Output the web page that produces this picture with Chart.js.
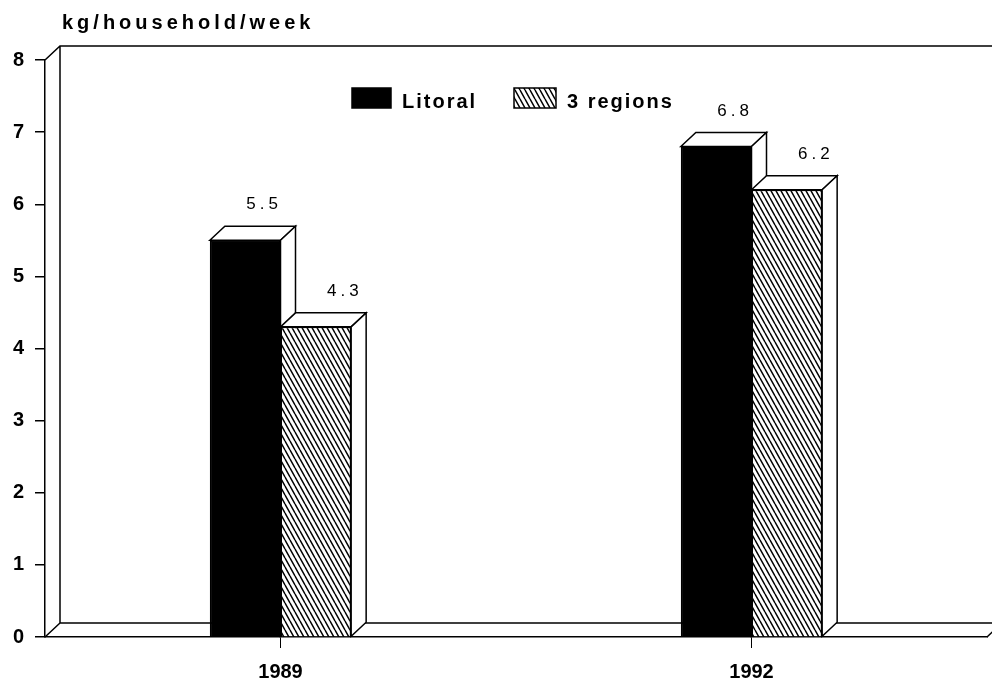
<!DOCTYPE html>
<html>
<head>
<meta charset="utf-8">
<script src="https://cdn.jsdelivr.net/npm/chart.js@4"></script>
<style>
  body { margin: 0; background: #fff; }
  canvas { display: block; }
</style>
</head>
<body>
<canvas id="chart" width="992" height="679"></canvas>
<script>
// datos
const years = ['1989', '1992'];
const litoral = [5.5, 6.8];
const regions3 = [4.3, 6.2];
const seriesNames = ['Litoral', '3 regions'];
const yTicks = [0, 1, 2, 3, 4, 5, 6, 7, 8];
const unitLabel = 'kg/household/week';

const FONT = '"Liberation Sans", Arial, sans-serif';
const DX = 15, DY = 14; // profundidad del efecto 3D

function makeHatch() {
  const c = document.createElement('canvas');
  c.width = 5; c.height = 9;
  const g = c.getContext('2d');
  g.fillStyle = '#fff';
  g.fillRect(0, 0, 5, 9);
  g.strokeStyle = '#000';
  g.lineWidth = 1.5;
  g.beginPath();
  for (const o of [-5, 0, 5]) { g.moveTo(o, 0); g.lineTo(o + 5, 9); }
  g.stroke();
  return g.createPattern(c, 'repeat');
}
const hatch = makeHatch();

// paredes del fondo (marco 3D)
const backWall = {
  id: 'backWall',
  beforeDatasetsDraw(chart) {
    const { ctx, chartArea: a } = chart;
    ctx.save();
    ctx.strokeStyle = '#000';
    ctx.lineWidth = 1.5;
    ctx.beginPath();
    ctx.moveTo(a.left, a.top); ctx.lineTo(a.left + DX, a.top - DY);
    ctx.lineTo(chart.width, a.top - DY);
    ctx.moveTo(a.left + DX, a.top - DY); ctx.lineTo(a.left + DX, a.bottom - DY);
    ctx.lineTo(a.right + DX, a.bottom - DY);
    ctx.moveTo(a.left, a.bottom); ctx.lineTo(a.left + DX, a.bottom - DY);
    ctx.moveTo(a.right, a.bottom); ctx.lineTo(a.right + DX, a.bottom - DY);
    ctx.stroke();
    ctx.restore();
  }
};

// vuelve a pintar las barras en orden, con caras superior y lateral
const bars3d = {
  id: 'bars3d',
  afterDatasetsDraw(chart) {
    const { ctx } = chart;
    chart.data.datasets.forEach((ds, i) => {
      chart.getDatasetMeta(i).data.forEach(el => {
        el.draw(ctx);
        const { x, y, base, width } = el.getProps(['x', 'y', 'base', 'width'], true);
        const l = x - width / 2, r = x + width / 2;
        ctx.save();
        ctx.strokeStyle = '#000';
        ctx.lineWidth = 1.5;
        ctx.fillStyle = '#fff';
        ctx.beginPath();
        ctx.moveTo(l, y); ctx.lineTo(l + DX, y - DY); ctx.lineTo(r + DX, y - DY); ctx.lineTo(r, y);
        ctx.closePath(); ctx.fill(); ctx.stroke();
        ctx.beginPath();
        ctx.moveTo(r, y); ctx.lineTo(r + DX, y - DY); ctx.lineTo(r + DX, base - DY); ctx.lineTo(r, base);
        ctx.closePath(); ctx.fill(); ctx.stroke();
        ctx.restore();
      });
    });

    const shift = [17, 27];
    ctx.save();
    ctx.fillStyle = '#000';
    ctx.font = '17px ' + FONT;
    ctx.letterSpacing = '4px';
    ctx.textAlign = 'center';
    ctx.textBaseline = 'alphabetic';
    chart.data.datasets.forEach((ds, i) => {
      chart.getDatasetMeta(i).data.forEach((el, j) => {
        ctx.fillText(ds.data[j].toFixed(1), el.x + shift[i] + 2, el.y - 31);
      });
    });
    ctx.restore();
  },
  afterDraw(chart) {
    const { ctx } = chart;
    ctx.save();
    ctx.fillStyle = '#000';
    ctx.font = 'bold 20px ' + FONT;
    ctx.letterSpacing = '4px';
    ctx.textBaseline = 'alphabetic';
    ctx.fillText(unitLabel, 62, 29);
    // leyenda
    ctx.letterSpacing = '2px';
    const items = [
      { box: 352, w: 39, text: 402 },
      { box: 514, w: 42, text: 567 }
    ];
    chart.data.datasets.forEach((ds, i) => {
      const it = items[i];
      ctx.fillStyle = ds.backgroundColor;
      ctx.fillRect(it.box, 88, it.w, 20);
      ctx.strokeStyle = '#000';
      ctx.lineWidth = 1.5;
      ctx.strokeRect(it.box, 88, it.w, 20);
      ctx.fillStyle = '#000';
      ctx.fillText(ds.label, it.text, 108);
    });
    ctx.restore();
  }
};

new Chart(document.getElementById('chart'), {
  type: 'bar',
  data: {
    labels: years,
    datasets: [
      { label: seriesNames[0], data: litoral, backgroundColor: '#000', borderColor: '#000', borderWidth: 1.5 },
      { label: seriesNames[1], data: regions3, backgroundColor: hatch, borderColor: '#000', borderWidth: 1.5 }
    ]
  },
  options: {
    responsive: false,
    devicePixelRatio: 1,
    animation: false,
    layout: { padding: { top: 60, right: 5, left: 0, bottom: 0 } },
    categoryPercentage: 0.3,
    barPercentage: 1.0,
    plugins: {
      legend: { display: false },
      tooltip: { enabled: false }
    },
    scales: {
      x: {
        afterFit: s => { s.height = 42; },
        grid: { offset: false, drawOnChartArea: false, tickLength: 11, color: '#000', lineWidth: 1 },
        border: { color: '#000', width: 1.5 },
        ticks: { color: '#000', font: { family: FONT, size: 20, weight: 'bold' }, padding: 12 }
      },
      y: {
        min: 0,
        max: 8,
        afterFit: s => { s.width = 45; },
        afterBuildTicks: s => { s.ticks = yTicks.map(v => ({ value: v })); },
        grid: { drawOnChartArea: false, tickLength: 10, color: '#000', lineWidth: 1.5 },
        border: { color: '#000', width: 1.5 },
        ticks: { color: '#000', font: { family: FONT, size: 20, weight: 'bold' }, padding: 11 }
      }
    }
  },
  plugins: [backWall, bars3d]
});
</script>
</body>
</html>
